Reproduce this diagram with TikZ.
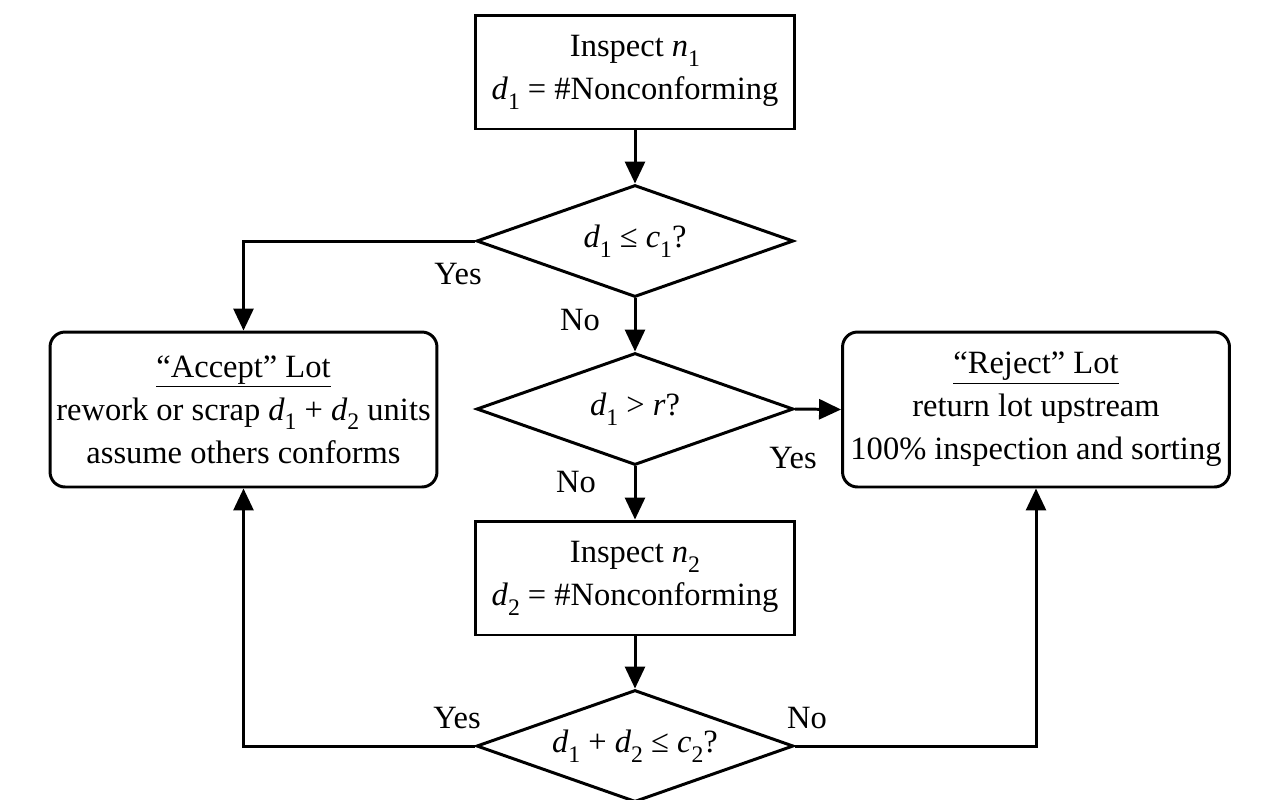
\documentclass[tikz,border=0pt]{standalone}
\usepackage{fontspec}
\setmainfont{Liberation Serif}
\usetikzlibrary{shapes.geometric,arrows.meta}
\newcommand{\vsub}[2]{\textit{#1}\raisebox{-0.3em}{\fontsize{13.5pt}{13.5pt}\selectfont #2}}

\begin{document}
\begin{tikzpicture}[x=0.02cm,y=-0.02cm,
	line width=1.7pt,
	every node/.style={font=\fontsize{18.5pt}{24.5pt}\selectfont},
	stepbox/.style={draw,rectangle,align=center,minimum width=6.4cm,minimum height=2.28cm},
	lotbox/.style={draw,rectangle,rounded corners=0.3cm,align=center,minimum width=7.74cm,minimum height=3.1cm},
	test/.style={draw,diamond,inner sep=0pt,shape aspect=2.83,minimum width=6.34cm,minimum height=2.24cm},
	flow/.style={-{Triangle[length=0.44cm,width=0.4cm]}}]
	  \useasboundingbox (0,0) rectangle (1274,799);   % page size

	  % steps and tests down the middle
	  \node[stepbox] (insp1) at (635,72) {Inspect \vsub{n}{1}\\ \vsub{d}{1} = \#Nonconforming};
	  \node[test] (dec1) at (635,241) {\vsub{d}{1} ≤ \vsub{c}{1}?};
	  \node[test] (dec2) at (635,409) {\vsub{d}{1} > \textit{r}?};
	  \node[stepbox] (insp2) at (635,578) {Inspect \vsub{n}{2}\\ \vsub{d}{2} = \#Nonconforming};
	  \node[test] (dec3) at (635,746) {\vsub{d}{1} + \vsub{d}{2} ≤ \vsub{c}{2}?};

	  % the two outcomes
	  \node[lotbox] (accept) at (243.5,409.5) {\underline{``Accept'' Lot}\\ rework or scrap \vsub{d}{1} + \vsub{d}{2} units\\ assume others conforms};
	  \node[lotbox] (reject) at (1036,409.5) {\underline{``Reject'' Lot}\\ return lot upstream\\ 100\% inspection and sorting};

	  % yes / no labels
	  \node (yes1) at (458,274) {Yes};
	  \node (no1) at (580,320) {No};
	  \node (yes2) at (793,458) {Yes};
	  \node (no2) at (576,482) {No};
	  \node (yes3) at (457,718) {Yes};
	  \node (no3) at (807,718) {No};

	  \draw[flow] (insp1) -- (dec1);
	  \draw[flow] (dec1.west) -| (accept.north);
	  \draw[flow] (dec1) -- (dec2);
	  \draw[flow] (dec2.east) -- (reject.west);
	  \draw[flow] (dec2) -- (insp2);
	  \draw[flow] (insp2) -- (dec3);
	  \draw[flow] (dec3.west) -| (accept.south);
	  \draw[flow] (dec3.east) -| (reject.south);
	\end{tikzpicture}
\end{document}
